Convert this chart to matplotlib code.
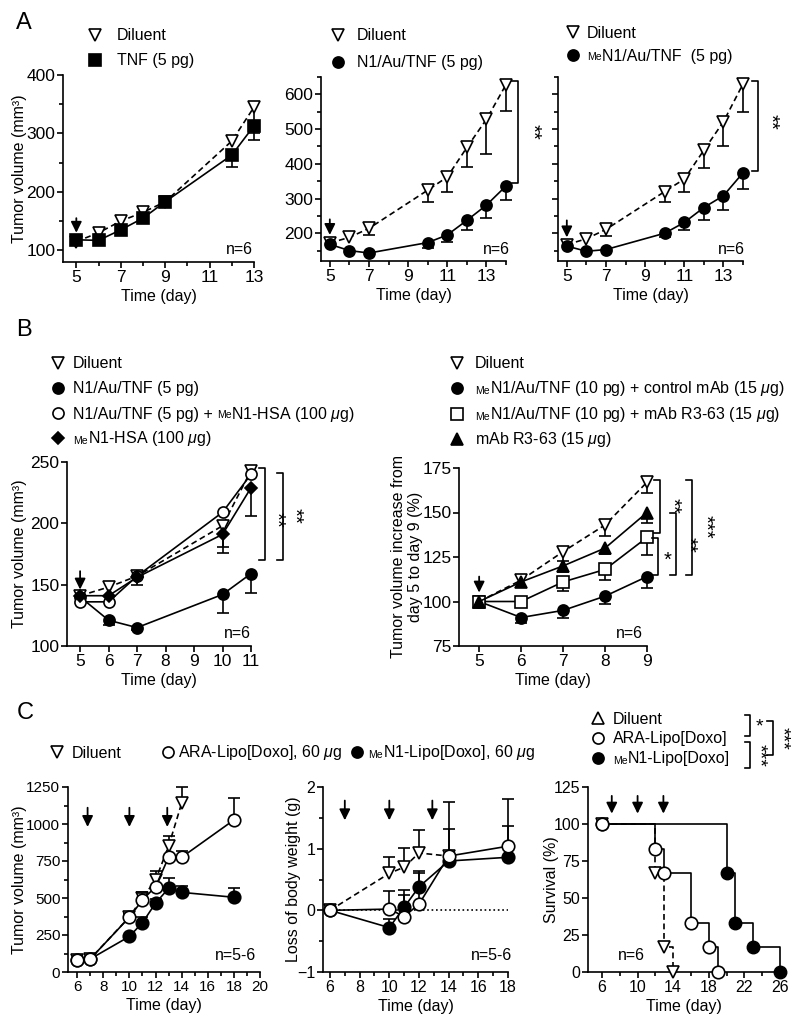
import numpy as np
import matplotlib
matplotlib.use("Agg")
import matplotlib.pyplot as plt
from matplotlib.lines import Line2D

plt.rcParams['font.family'] = ['Liberation Sans', 'DejaVu Sans']
plt.rcParams['mathtext.fontset'] = 'custom'
plt.rcParams['mathtext.rm'] = 'Liberation Sans'
plt.rcParams['mathtext.it'] = 'Liberation Sans:italic'

W, H = 800, 1029
FS = 11.5
SM = 7.5
MU = r'$\mu$'

# ---------------- data ----------------
# A1
a1_day = [5, 6, 7, 8, 9, 12, 13]
a1_dil = [115, 130, 150, 165, 183, 287, 345]
a1_dil_err = [0, 0, 0, 0, 0, 0, 45]
a1_tnf = [118, 117, 135, 155, 183, 263, 313]
a1_tnf_err = [0, 0, 0, 0, 0, 20, 24]
# A2
a2_day = [5, 6, 7, 10, 11, 12, 13, 14]
a2_dil = [172, 188, 214, 324, 362, 447, 528, 628]
a2_dil_err = [0, 0, 19, 34, 43, 55, 100, 76]
a2_n1 = [168, 150, 143, 173, 195, 237, 281, 336]
a2_n1_err = [0, 0, 0, 16, 19, 28, 36, 41]
# A3
a3_day = [5, 6, 7, 10, 11, 12, 13, 14]
a3_dil = [167, 184, 211, 320, 356, 439, 521, 630]
a3_dil_err = [0, 0, 18, 30, 37, 50, 71, 82]
a3_me = [163, 148, 153, 200, 231, 274, 308, 374]
a3_me_err = [0, 0, 0, 11, 23, 35, 40, 47]
# B1
b1_day = [5, 6, 7, 10, 11]
b1_dil = [141, 148, 157, 198, 243]
b1_dil_err = [0, 0, 7, 17, 0]
b1_n1 = [140, 121, 115, 142, 159]
b1_n1_err = [0, 4, 2, 15, 16]
b1_n1hsa = [136, 136, 157, 209, 240]
b1_n1hsa_err = [0, 0, 0, 0, 0]
b1_hsa = [141, 141, 156, 191, 229]
b1_hsa_err = [0, 0, 0, 15, 23]
# B2
b2_day = [5, 6, 7, 8, 9]
b2_dil = [100, 112, 128, 143, 167]
b2_dil_err = [0, 0, 5, 6, 6]
b2_ctrl = [100, 91, 95, 103, 114]
b2_ctrl_err = [0, 3, 4, 4.5, 6.5]
b2_r3 = [100, 100, 111, 118, 136]
b2_r3_err = [0, 0, 5, 6, 10]
b2_mab = [100, 111, 120, 130, 150]
b2_mab_err = [0, 0, 3.5, 3.5, 6]
# C1
c1_dil_day = [6, 7, 10, 11, 12, 13, 14]
c1_dil = [78, 88, 372, 500, 621, 850, 1140]
c1_dil_err = [0, 0, 30, 40, 60, 70, 110]
c1_day = [6, 7, 10, 11, 12, 13, 14, 18]
c1_ara = [78, 88, 370, 487, 576, 775, 775, 1027]
c1_ara_err = [0, 0, 25, 50, 0, 0, 40, 150]
c1_me = [78, 88, 240, 333, 465, 565, 538, 505]
c1_me_err = [0, 0, 0, 40, 27, 72, 45, 60]
# C2
c2_dil_day = [6, 10, 11, 12, 14]
c2_dil = [0, 0.6, 0.7, 0.93, 0.88]
c2_dil_err = [0, 0.26, 0.31, 0.37, 0]
c2_day = [6, 10, 11, 12, 14, 18]
c2_ara = [0, 0.02, -0.1, 0.1, 0.88, 1.04]
c2_ara_err = [0, 0.3, 0.35, 0.5, 0.87, 0.76]
c2_me = [0, -0.28, 0.05, 0.38, 0.8, 0.86]
c2_me_err = [0, 0.14, 0.28, 0.25, 0.52, 0.51]
# C3 survival
c3_dil_day = [6, 12, 13, 14]
c3_dil = [100, 66.7, 16.7, 0]
c3_ara_day = [6, 12, 13, 16, 18, 19]
c3_ara = [100, 83.3, 66.7, 33.3, 16.7, 0]
c3_me_day = [6, 20, 21, 23, 26]
c3_me = [100, 66.7, 33.3, 16.7, 0]

# treatment arrows (day, tip, tail)
a1_arrow = ([5], 130, 155)
a2_arrow = ([5], 195, 240)
a3_arrow = ([5], 188, 237)
b1_arrow = ([5], 146, 161)
b2_arrow = ([5], 105, 114)
c1_arrow = ([6.8, 10, 12.9], 980, 1110)
c2_arrow = ([7, 10, 12.9], 1.46, 1.78)
c3_arrow = ([7.1, 10, 12.9], 107, 119)

fig = plt.figure(figsize=(W / 100, H / 100), dpi=100)
rend = fig.canvas.get_renderer()


def fx(x):
    return x / W


def fy(y):
    return 1 - y / H


def add_ax(l, t, r, b):
    return fig.add_axes([fx(l), fy(b), (r - l) / W, (b - t) / H])


def style(ax, xlim, ylim, xmaj, ymaj, xmin=None, ymin=None, ylab=None, ylx=None, tfs=12.5):
    ax.set_xlim(*xlim)
    ax.set_ylim(*ylim)
    for s in ['top', 'right']:
        ax.spines[s].set_visible(False)
    for s in ['left', 'bottom']:
        ax.spines[s].set_linewidth(1.2)
    ax.set_xticks(xmaj)
    ax.set_yticks(ymaj)
    if xmin is not None:
        ax.set_xticks(xmin, minor=True)
    if ymin is not None:
        ax.set_yticks(ymin, minor=True)
    ax.tick_params(direction='out', length=4, width=1.2, labelsize=tfs, pad=1.5)
    ax.tick_params(which='minor', direction='out', length=3, width=1.2)
    ax.set_xlabel('Time (day)', fontsize=FS, labelpad=3)
    if ylab:
        ax.set_ylabel(ylab, fontsize=FS, multialignment='center')
        l = ax.get_position().x0 * W
        w = ax.get_position().width * W
        ax.yaxis.set_label_coords((ylx - l) / w, 0.5)


def series(ax, x, y, err, marker, mfc, ls, side=-1, ms=8, z=3):
    x = np.array(x, float)
    y = np.array(y, float)
    e = np.array(err, float)
    k = e > 0
    end = y[k] + side * e[k]
    ax.vlines(x[k], y[k], end, color='k', lw=1.2, zorder=z - 1, clip_on=False)
    ax.plot(x[k], end, ls='none', marker='_', ms=9, mew=1.2, color='k', zorder=z - 1, clip_on=False)
    ax.plot(x, y, ls=ls, color='k', lw=1.2, marker=marker, ms=ms, mfc=mfc, mec='k', mew=1.2,
            zorder=z, clip_on=False)


def arrows(ax, spec):
    days, tip, tail = spec
    for d in days:
        ax.annotate('', xy=(d, tip), xytext=(d, tail),
                    arrowprops=dict(arrowstyle='-|>,head_width=0.32,head_length=0.65',
                                    color='k', lw=1.3, shrinkA=0, shrinkB=0))


def rich(x, y, parts, **kw):
    cx = x
    for p in parts:
        s, size = p[0], p[1]
        gap = p[2] if len(p) > 2 else 0
        t = fig.text(fx(cx), fy(y), s, fontsize=size, ha='left', va='baseline', **kw)
        cx += t.get_window_extent(renderer=rend).width + gap


def leg(xm, xt, y, marker, mfc, parts, ms=8):
    fig.add_artist(Line2D([fx(xm)], [fy(y)], marker=marker, mfc=mfc, mec='k', mew=1.2, ms=ms,
                          ls='none', transform=fig.transFigure))
    rich(xt, y + 5.5, parts)


def bracket(x, y0, y1, arm=6):
    fig.add_artist(Line2D([fx(x - arm), fx(x), fx(x), fx(x - arm)], [fy(y0), fy(y0), fy(y1), fy(y1)],
                          color='k', lw=1.2, transform=fig.transFigure))


def stars(x, y, s, rot=-90, size=14.5):
    fig.text(fx(x), fy(y), s, fontsize=size, ha='center', va='center', rotation=rot)


def ntext(x, y, s):
    fig.text(fx(x), fy(y), s, fontsize=FS, ha='right', va='center')


dash = (0, (3.5, 2.2))

# ---------------- panel A ----------------
fig.text(fx(24), fy(23), 'A', fontsize=17, ha='center', va='center')

ax = add_ax(63, 75, 254, 262)
series(ax, a1_day, a1_dil, a1_dil_err, 'v', 'white', dash)
series(ax, a1_day, a1_tnf, a1_tnf_err, 's', 'k', '-')
arrows(ax, a1_arrow)
style(ax, (4.4, 13.0), (80, 400), [5, 7, 9, 11, 13], [100, 200, 300, 400],
      [6, 8, 10, 12], [150, 250, 350], 'Tumor volume (mm³)', 27)
ntext(253, 249, 'n=6')
leg(95, 117, 35, 'v', 'white', [('Diluent', FS)])
leg(95, 117, 60, 's', 'k', [('TNF (5 pg)', FS)])

ax = add_ax(321, 77, 506, 261)
series(ax, a2_day, a2_dil, a2_dil_err, 'v', 'white', dash)
series(ax, a2_day, a2_n1, a2_n1_err, 'o', 'k', '-')
arrows(ax, a2_arrow)
style(ax, (4.55, 14.0), (120, 650), [5, 7, 9, 11, 13], [200, 300, 400, 500, 600],
      [6, 8, 10, 12, 14], [150, 250, 350, 450, 550, 650])
ntext(510, 249, 'n=6')
leg(338, 357, 35, 'v', 'white', [('Diluent', FS)])
leg(338, 357, 62, 'o', 'k', [('N1/Au/TNF (5 pg)', FS)])
bracket(518, 81, 183)
stars(532, 132, '**')

ax = add_ax(558, 77, 743, 261)
series(ax, a3_day, a3_dil, a3_dil_err, 'v', 'white', dash)
series(ax, a3_day, a3_me, a3_me_err, 'o', 'k', '-')
arrows(ax, a3_arrow)
style(ax, (4.55, 14.0), (120, 650), [5, 7, 9, 11, 13], [200, 300, 400, 500, 600],
      [6, 8, 10, 12, 14], [150, 250, 350, 450, 550, 650])
ax.set_yticklabels([])
ntext(745, 250, 'n=6')
leg(573, 587, 32, 'v', 'white', [('Diluent', FS)])
leg(573, 587, 55, 'o', 'k', [('Me', SM), ('N1/Au/TNF  (5 pg)', FS)])
bracket(758, 81, 171)
stars(770, 122, '**')

# ---------------- panel B ----------------
fig.text(fx(24), fy(330), 'B', fontsize=17, ha='center', va='center')

ax = add_ax(67, 462, 251, 646)
series(ax, b1_day, b1_dil, b1_dil_err, 'v', 'white', dash)
series(ax, b1_day, b1_n1, b1_n1_err, 'o', 'k', '-')
series(ax, b1_day, b1_n1hsa, b1_n1hsa_err, 'o', 'white', '-')
series(ax, b1_day, b1_hsa, b1_hsa_err, 'D', 'k', '-', ms=6)
arrows(ax, b1_arrow)
style(ax, (4.54, 11.0), (100, 250), [5, 6, 7, 8, 9, 10, 11], [100, 150, 200, 250],
      None, None, 'Tumor volume (mm³)', 27)
ntext(251, 633, 'n=6')
leg(58, 73, 363, 'v', 'white', [('Diluent', FS)])
leg(58, 73, 388, 'o', 'k', [('N1/Au/TNF (5 pg)', FS)])
leg(58, 73, 413, 'o', 'white', [('N1/Au/TNF (5 pg) +', FS, 4), ('Me', SM),
                                 ('N1-HSA (100 ' + MU + 'g)', FS)])
leg(58, 73, 438, 'D', 'k', [('Me', SM), ('N1-HSA (100 ' + MU + 'g)', FS)], ms=6)
bracket(265, 468, 560)
stars(276, 520, '**')
bracket(283, 473, 560)
stars(294, 516, '**')

ax = add_ax(459, 468, 647, 646)
series(ax, b2_day, b2_dil, b2_dil_err, 'v', 'white', dash)
series(ax, b2_day, b2_ctrl, b2_ctrl_err, 'o', 'k', '-')
series(ax, b2_day, b2_r3, b2_r3_err, 's', 'white', '-')
series(ax, b2_day, b2_mab, b2_mab_err, '^', 'k', '-')
arrows(ax, b2_arrow)
style(ax, (4.52, 9.0), (75, 175), [5, 6, 7, 8, 9], [75, 100, 125, 150, 175],
      None, None, 'Tumor volume increase from\nday 5 to day 9 (%)', 423)
ntext(643, 633, 'n=6')
leg(457, 475, 363, 'v', 'white', [('Diluent', FS)])
leg(457, 475, 388, 'o', 'k', [('Me', SM), ('N1/Au/TNF (10 pg) + control mAb (15 ' + MU + 'g)', FS)])
leg(457, 475, 414, 's', 'white', [('Me', SM), ('N1/Au/TNF (10 pg) + mAb R3-63 (15 ' + MU + 'g)', FS)])
leg(457, 475, 439, '^', 'k', [('mAb R3-63 (15 ' + MU + 'g)', FS)])
bracket(660, 480, 533)
stars(672, 506, '**')
bracket(658, 538, 575)
stars(668, 560, '*', rot=0)
bracket(676, 513, 575)
stars(688, 545, '**')
bracket(692, 480, 575)
stars(705, 527, '***')

# ---------------- panel C ----------------
fig.text(fx(25), fy(713), 'C', fontsize=17, ha='center', va='center')
leg(57, 72, 752, 'v', 'white', [('Diluent', FS)])
leg(168, 178, 752, 'o', 'white', [('ARA-Lipo[Doxo], 60 ' + MU + 'g', FS)])
leg(357, 368, 752, 'o', 'k', [('Me', SM), ('N1-Lipo[Doxo], 60 ' + MU + 'g', FS)])

ax = add_ax(68, 787, 260, 972)
series(ax, c1_dil_day, c1_dil, c1_dil_err, 'v', 'white', dash, side=1, ms=9)
series(ax, c1_day, c1_me, c1_me_err, 'o', 'k', '-', side=1, ms=9)
series(ax, c1_day, c1_ara, c1_ara_err, 'o', 'white', '-', side=1, ms=9, z=4)
arrows(ax, c1_arrow)
style(ax, (5.3, 20), (0, 1250), [6, 8, 10, 12, 14, 16, 18, 20], [0, 250, 500, 750, 1000, 1250],
      [7, 9, 11, 13, 15, 17, 19], [125, 375, 625, 875, 1125], 'Tumor volume (mm³)', 27, tfs=11)
ntext(256, 955, 'n=5-6')

ax = add_ax(323, 787, 508, 972)
ax.hlines(0, min(c2_day), max(c2_day), colors='k', linestyles=':', lw=1.2)
series(ax, c2_dil_day, c2_dil, c2_dil_err, 'v', 'white', dash, side=1, ms=9)
series(ax, c2_day, c2_me, c2_me_err, 'o', 'k', '-', side=1, ms=9)
series(ax, c2_day, c2_ara, c2_ara_err, 'o', 'white', '-', side=1, ms=9, z=4)
arrows(ax, c2_arrow)
style(ax, (5.53, 18), (-1, 2), [6, 8, 10, 12, 14, 16, 18], [-1, 0, 1, 2],
      [7, 9, 11, 13, 15, 17], [-0.5, 0.5, 1.5], 'Loss of body weight (g)', 301, tfs=11.5)
ntext(512, 955, 'n=5-6')

ax = add_ax(588, 787, 780, 972)
ax.step(c3_me_day, c3_me, where='post', color='k', lw=1.2, clip_on=False)
ax.plot(c3_me_day, c3_me, ls='none', marker='o', ms=9, mfc='k', mec='k', clip_on=False, zorder=4)
ax.step(c3_ara_day, c3_ara, where='post', color='k', lw=1.2, clip_on=False)
ax.step(c3_dil_day, c3_dil, where='post', color='k', lw=1.2, ls=dash, clip_on=False)
ax.plot(c3_dil_day, c3_dil, ls='none', marker='v', ms=9, mfc='white', mec='k', mew=1.2,
        clip_on=False, zorder=4)
ax.plot(c3_ara_day, c3_ara, ls='none', marker='o', ms=9, mfc='white', mec='k', mew=1.2,
        clip_on=False, zorder=5)
arrows(ax, c3_arrow)
style(ax, (4.43, 26), (0, 125), [6, 10, 14, 18, 22, 26], [0, 25, 50, 75, 100, 125],
      [8, 12, 16, 20, 24], None, 'Survival (%)', 559, tfs=11.5)
ntext(645, 955, 'n=6')
leg(598, 613, 718, '^', 'white', [('Diluent', FS)])
leg(598, 613, 738, 'o', 'white', [('ARA-Lipo[Doxo]', FS)])
leg(598, 613, 758, 'o', 'k', [('Me', SM), ('N1-Lipo[Doxo]', FS)])
bracket(750, 715, 736, arm=5)
stars(759, 727, '*', rot=0, size=14)
bracket(750, 742, 768, arm=5)
stars(759, 755, '***', size=14)
bracket(773, 721, 755, arm=6)
stars(782, 738, '***', size=14)

fig.savefig('out.png', dpi=100)
